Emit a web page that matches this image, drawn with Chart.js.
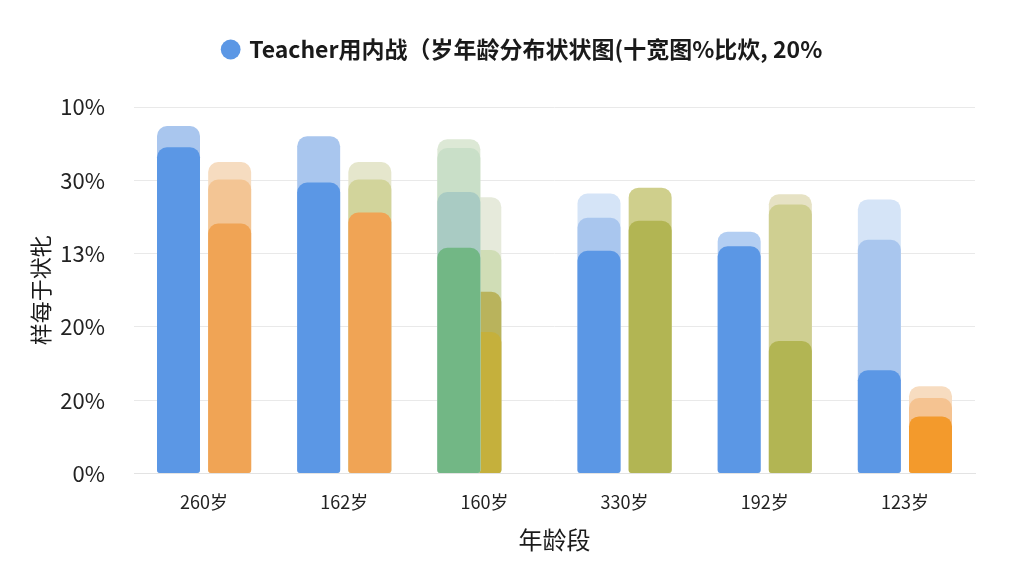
<!DOCTYPE html>
<html>
<head>
<meta charset="utf-8">
<script src="https://cdn.jsdelivr.net/npm/chart.js@4/dist/chart.umd.min.js"></script>
<style>
  html, body { margin: 0; padding: 0; background: #fff; }
  #wrap { width: 1024px; height: 576px; }
</style>
</head>
<body>
<div id="wrap"><canvas id="c"></canvas></div>
<script>
// categories and axis text
const ageGroups = ['260岁', '162岁', '160岁', '330岁', '192岁', '123岁'];
const yTickLabels = ['0%', '20%', '20%', '13%', '30%', '10%'];
const legendText = 'Teacher用内战（岁年龄分布状状图(十宽图%比炊, 20%';

// left column layers (solid → faint)
const leftSolid = [4.45, 3.97, 3.08, 3.04, 3.10, 1.41];
const leftMid   = [null, null, 3.84, null, null, null];
const leftLight = [4.74, 4.60, 4.44, 3.49, 3.30, 3.19];
const leftFaint = [null, null, 4.56, 3.82, null, 3.74];

// right column layers (solid → faint)
const rightSolid = [3.41, 3.56, null, 3.45, 1.81, 0.78];
const rightLight = [4.01, 4.01, null, 3.90, 3.67, 1.03];
const rightFaint = [4.25, 4.25, null, null, 3.81, 1.19];

// narrow overlapped bars in the 160岁 group
const narrow1 = [null, null, 1.93, null, null, null];
const narrow2 = [null, null, 2.48, null, null, null];
const narrow3 = [null, null, 3.05, null, null, null];
const narrow4 = [null, null, 3.77, null, null, null];

const radius = { topLeft: 10, topRight: 10, bottomLeft: 3, bottomRight: 3 };

function layer(label, data, colors, stack, order, extra) {
  return Object.assign({
    label: label,
    data: data,
    backgroundColor: colors,
    stack: stack,
    order: order,
    borderRadius: radius,
    borderSkipped: false,
  }, extra || {});
}

const narrowOpts = { grouped: false, barPercentage: 0.33 };

// extra room under the legend, and nudge it right a bit
const legendGap = {
  id: 'legendGap',
  beforeInit(chart) {
    const fit = chart.legend.fit;
    chart.legend.fit = function () {
      fit.bind(chart.legend)();
      this.height += 36;
    };
  },
  afterLayout(chart) {
    chart.legend.left += 22;
    chart.legend.right += 22;
  },
};

new Chart(document.getElementById('c'), {
  type: 'bar',
  data: {
    labels: ageGroups,
    datasets: [
      layer(legendText, leftSolid,
        ['#5b97e5', '#5b97e5', '#72b785', '#5b97e5', '#5b97e5', '#5b97e5'], 'a', 1),
      layer('l3', leftMid,
        ['#a9cbc3', '#a9cbc3', '#a9cbc3', '#a9cbc3', '#a9cbc3', '#a9cbc3'], 'a', 2),
      layer('l2', leftLight,
        ['#a9c6ee', '#a9c6ee', '#c9dfc8', '#a9c6ee', '#b3cef2', '#a9c6ee'], 'a', 3),
      layer('l1', leftFaint,
        ['#d5e4f7', '#d5e4f7', '#dce8d5', '#d5e4f7', '#d5e4f7', '#d5e4f7'], 'a', 4),
      layer('r4', rightSolid,
        ['#f0a455', '#f0a455', '#f0a455', '#b2b553', '#b2b553', '#f39a2c'], 'b', 1),
      layer('r2', rightLight,
        ['#f3c594', '#d2d49b', '#d2d49b', '#cfcf8c', '#cfcf91', '#f5c391'], 'b', 3),
      layer('r1', rightFaint,
        ['#f6dcc0', '#e5e6cc', '#e5e6cc', '#e5e6cc', '#e6e2c4', '#f7dcc0'], 'b', 4),
      layer('n1', narrow1, '#c5b03c', 'n', 5, narrowOpts),
      layer('n2', narrow2, '#b9b35c', 'n', 6, narrowOpts),
      layer('n3', narrow3, '#d0ddb6', 'n', 7, narrowOpts),
      layer('n4', narrow4, '#e6eadb', 'n', 8, narrowOpts),
    ],
  },
  plugins: [legendGap],
  options: {
    responsive: true,
    maintainAspectRatio: false,
    animation: false,
    datasets: { bar: { categoryPercentage: 0.73, barPercentage: 0.84 } },
    layout: { padding: { left: 27, right: 49, top: 12, bottom: 22 } },
    plugins: {
      legend: {
        display: true,
        labels: {
          filter: (item) => item.datasetIndex === 0,
          usePointStyle: true,
          pointStyle: 'circle',
          boxWidth: 14,
          boxHeight: 14,
          color: '#1a1a1a',
          font: { family: '"Noto Sans CJK SC", "Noto Sans", sans-serif', size: 23, weight: 'bold' },
          padding: 26,
        },
      },
      tooltip: { enabled: false },
    },
    scales: {
      x: {
        grid: { display: false },
        border: { color: '#e3e3e3' },
        ticks: {
          color: '#222',
          padding: 10,
          font: { family: '"Noto Sans CJK SC", sans-serif', size: 18 },
        },
        title: {
          display: true,
          text: '年龄段',
          color: '#1a1a1a',
          padding: { top: 2, bottom: 0 },
          font: { family: '"Noto Sans CJK SC", sans-serif', size: 24 },
        },
      },
      y: {
        stacked: false,
        min: 0,
        max: 5,
        border: { display: false },
        grid: { color: '#e9e9e9', borderDash: [8, 5], drawTicks: false },
        afterFit: (axis) => { axis.width = 107; },
        ticks: {
          stepSize: 1,
          padding: 29,
          color: '#222',
          font: { family: '"Noto Sans CJK SC", "Noto Sans", sans-serif', size: 22 },
          callback: (v) => yTickLabels[v],
        },
        title: {
          display: true,
          text: '样每于状牝',
          color: '#1a1a1a',
          padding: { top: 0, bottom: 9 },
          font: { family: '"Noto Sans CJK SC", sans-serif', size: 22 },
        },
      },
    },
  },
});
</script>
</body>
</html>
